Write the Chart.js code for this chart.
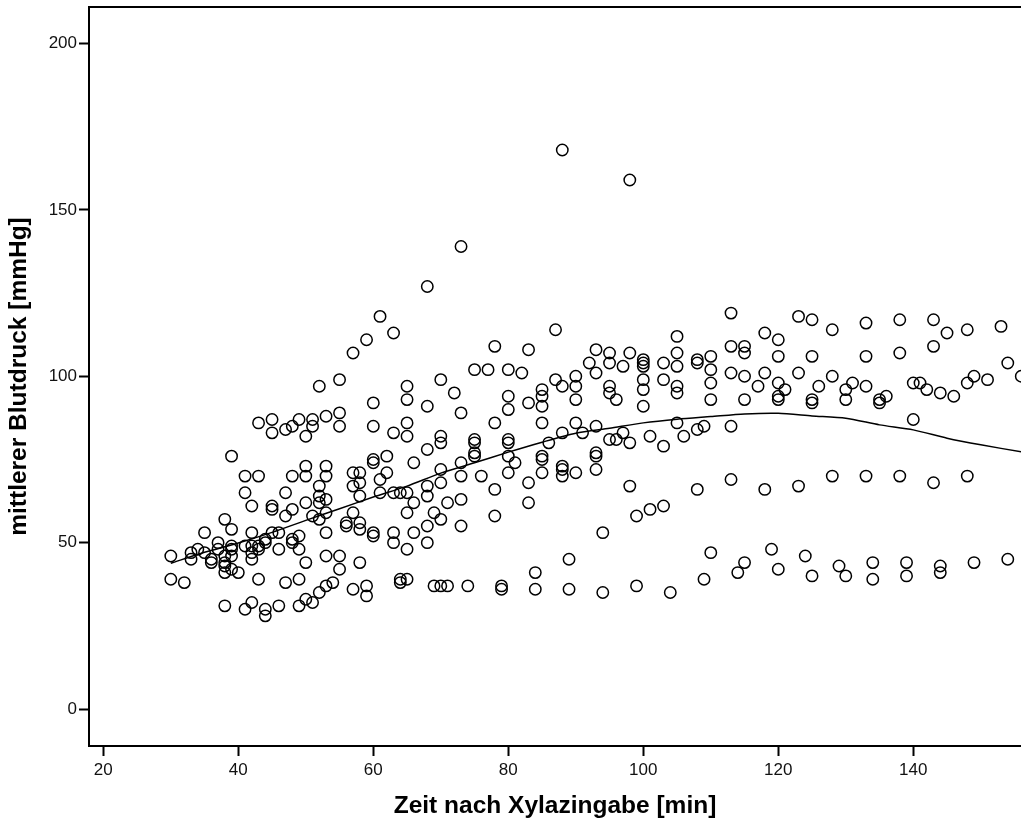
<!DOCTYPE html>
<html>
<head>
<meta charset="utf-8">
<title>Blutdruck nach Xylazingabe</title>
<script src="https://cdn.jsdelivr.net/npm/chart.js@4.4.1/dist/chart.umd.min.js"></script>
<style>
  html, body { margin: 0; padding: 0; background: #ffffff; }
  #wrap { width: 1021px; height: 825px; }
</style>
</head>
<body>
<div id="wrap"><canvas id="bp-chart"></canvas></div>
<script>
// Scatter of mean blood pressure vs. time after xylazine, with loess fit line

// time after xylazine [min], one entry per measurement
const timeMin = [
    61,63,59,57,55,52,60,43,45,45,47,48,49,51,51,50,53,55,55,60,63,39,62,60,60,
    50,53,41,43,48,50,53,57,58,62,61,57,58,52,41,47,52,53,50,52,58,61,63,42,45,
    45,48,47,51,53,57,38,39,52,56,56,58,58,60,60,63,63,35,42,45,46,53,49,48,48,
    44,37,42,43,41,39,39,44,37,34,33,35,30,33,36,36,38,39,42,42,43,46,49,38,38,
    38,39,40,50,53,55,55,58,30,32,43,47,49,53,54,52,57,59,59,38,41,42,44,44,46,49,50,51,
    87,78,83,75,77,80,82,93,95,98,92,95,97,93,70,65,65,72,68,73,80,80,83,85,85,85,87,88,90,90,90,95,95,96,
    65,65,70,70,68,75,75,75,75,78,80,80,80,81,85,85,86,88,90,91,93,93,93,95,96,97,98,66,70,73,
    85,88,88,88,85,90,93,73,76,80,70,68,64,65,68,66,71,73,78,83,83,98,65,69,70,68,73,78,99,66,68,65,94,89,84,
    64,64,65,69,70,71,74,79,79,84,89,94,99,
    113,123,125,133,128,105,118,120,100,100,100,103,105,105,108,108,110,110,
    113,113,115,115,115,118,120,125,123,128,133,100,100,100,103,105,105,110,110,115,117,
    120,121,120,120,125,125,126,130,130,131,133,105,108,109,113,101,106,103,
    108,113,118,123,128,133,101,103,110,119,124,115,114,120,129,130,134,134,109,125,104,
    138,143,145,148,153,138,143,154,156,140,141,142,144,146,148,149,151,135,135,136,140,138,143,148,139,139,144,144,149,154,
    88,98,73,68
];

// mean arterial pressure [mmHg], same order as timeMin
const pressure = [
    118,113,111,107,99,97,92,86,87,83,84,85,87,87,85,82,88,89,85,85,83,76,76,75,74,
    73,73,70,70,70,70,70,71,71,71,69,67,68,67,65,65,64,63,62,62,64,65,65,61,61,
    60,60,58,58,59,59,57,54,57,56,55,56,54,53,52,53,50,53,53,53,53,53,52,51,50,
    51,50,49,49,49,49,48,50,48,48,47,47,46,45,45,44,46,46,45,47,48,48,48,44,43,
    41,42,41,44,46,46,42,44,39,38,39,38,39,37,38,35,36,37,34,31,30,32,30,28,31,31,33,32,
    114,109,108,102,102,102,101,108,107,107,104,104,103,101,99,97,93,95,91,89,94,90,92,96,94,91,99,97,100,97,93,97,95,93,
    86,82,82,80,78,81,80,77,76,86,81,80,76,74,86,76,80,83,86,83,85,77,76,81,81,83,80,74,72,74,
    75,73,72,70,71,71,72,70,70,71,68,67,65,65,64,62,62,63,66,68,62,67,59,59,57,55,55,58,58,53,50,48,53,45,41,
    39,38,39,37,37,37,37,37,36,36,36,35,37,
    119,118,117,116,114,112,113,111,105,104,103,104,107,103,105,104,106,102,
    109,101,109,107,100,101,106,106,101,100,106,99,96,91,99,97,95,98,93,93,97,
    98,96,94,93,93,92,97,96,93,98,97,86,84,85,85,82,82,79,
    66,69,66,67,70,70,60,61,47,48,46,44,41,42,43,40,44,39,39,40,35,
    117,117,113,114,115,107,109,104,100,98,98,96,95,94,98,100,99,93,92,94,87,70,68,70,44,40,43,41,44,45,
    168,159,139,127
];

// loess fit line
const loessX = [30,35,40,45,50,55,60,65,70,75,80,85,90,95,100,105,110,115,120,125,130,135,140,145,150,156];
const loessY = [43.8,47.1,49.9,53.1,56.7,60.2,63.7,67.0,70.9,74.0,77.2,80.2,82.9,84.4,86.0,87.1,87.9,88.7,88.9,88.1,87.4,85.4,83.9,81.4,79.4,77.3];

// axis ticks
const xTicks = [20, 40, 60, 80, 100, 120, 140];
const yTicks = [0, 50, 100, 150, 200];

function createBloodPressureChart() {
    const canvas = document.getElementById('bp-chart');
    if (!canvas) {
        console.error('chart canvas not found');
        return;
    }

    const points = timeMin.map((t, i) => ({ x: t, y: pressure[i] }));
    const loess = loessX.map((t, i) => ({ x: t, y: loessY[i] }));

    const labelFont = { family: '"Liberation Sans", Arial, sans-serif', size: 17 };
    const titleFont = { family: '"Liberation Sans", Arial, sans-serif', size: 24.5, weight: 'bold' };

    // box round the plot area; the right side runs off the canvas like in the original
    const frame = {
        id: 'frame',
        beforeDatasetsDraw(chart) {
            const { ctx, chartArea } = chart;
            ctx.save();
            ctx.strokeStyle = '#000';
            ctx.lineWidth = 2;
            ctx.strokeRect(chartArea.left, chartArea.top,
                chartArea.right - chartArea.left + 6, chartArea.bottom - chartArea.top);
            ctx.restore();
        }
    };

    new Chart(canvas.getContext('2d'), {
        type: 'scatter',
        data: {
            datasets: [
                {
                    label: 'Messwerte',
                    data: points,
                    pointStyle: 'circle',
                    pointRadius: 5.7,
                    pointBorderWidth: 1.5,
                    pointBorderColor: '#000',
                    pointBackgroundColor: 'rgba(0,0,0,0)',
                    showLine: false
                },
                {
                    label: 'Loess',
                    data: loess,
                    showLine: true,
                    borderColor: '#000',
                    borderWidth: 1.5,
                    pointRadius: 0,
                    tension: 0.25
                }
            ]
        },
        options: {
            responsive: true,
            maintainAspectRatio: false,
            animation: false,
            layout: {
                autoPadding: false,
                padding: { top: 7, right: 0, bottom: 0, left: 0 }
            },
            scales: {
                x: {
                    type: 'linear',
                    min: 17.88,
                    max: 155.96,
                    afterBuildTicks: axis => { axis.ticks = xTicks.map(v => ({ value: v })); },
                    afterFit: axis => {
                        axis.height = 79;
                        axis.paddingLeft = 0;
                        axis.paddingRight = 0;
                    },
                    grid: {
                        drawOnChartArea: false,
                        drawTicks: true,
                        tickLength: 10,
                        tickWidth: 2,
                        color: '#000'
                    },
                    border: { display: true, color: '#000', width: 2 },
                    ticks: {
                        color: '#111',
                        font: labelFont,
                        padding: 4,
                        maxRotation: 0
                    },
                    title: {
                        display: true,
                        text: 'Zeit nach Xylazingabe [min]',
                        color: '#000',
                        font: titleFont,
                        padding: { top: 0, bottom: 4 }
                    }
                },
                y: {
                    type: 'linear',
                    min: -11.12,
                    max: 211.0,
                    afterBuildTicks: axis => { axis.ticks = yTicks.map(v => ({ value: v })); },
                    afterFit: axis => {
                        axis.width = 89;
                        axis.paddingTop = 0;
                        axis.paddingBottom = 0;
                    },
                    grid: {
                        drawOnChartArea: false,
                        drawTicks: true,
                        tickLength: 10,
                        tickWidth: 2,
                        color: '#000'
                    },
                    border: { display: true, color: '#000', width: 2 },
                    ticks: {
                        color: '#111',
                        font: labelFont,
                        padding: 2
                    },
                    title: {
                        display: true,
                        text: 'mittlerer Blutdruck [mmHg]',
                        color: '#000',
                        font: titleFont,
                        padding: { top: 5, bottom: 0 }
                    }
                }
            },
            plugins: {
                legend: { display: false },
                tooltip: { enabled: false }
            }
        },
        plugins: [frame]
    });
}

document.addEventListener('DOMContentLoaded', createBloodPressureChart);
</script>
</body>
</html>
